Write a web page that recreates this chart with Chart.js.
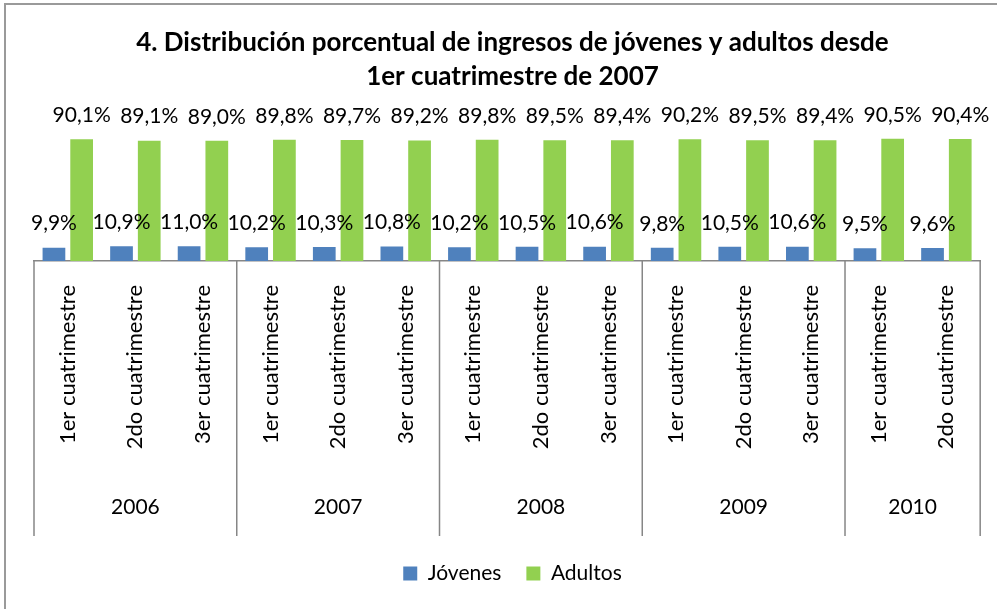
<!DOCTYPE html>
<html>
<head>
<meta charset="utf-8">
<script src="https://cdn.jsdelivr.net/npm/chart.js@4.4.0/dist/chart.umd.min.js"></script>
<style>
  body { margin: 0; background: #fff; }
  #wrap { position: relative; width: 997px; height: 609px; overflow: hidden; }
  #frame { position: absolute; left: 4px; top: 3px; width: 1100px; height: 700px;
           border-top: 2px solid #9a9a9a; border-left: 2px solid #9a9a9a; pointer-events: none; }
</style>
</head>
<body>
<div id="wrap">
  <canvas id="ingresosChart" width="997" height="609"></canvas>
  <div id="frame"></div>
</div>
<script>
// datos del grafico
var cuatrimestres = [
  '1er cuatrimestre', '2do cuatrimestre', '3er cuatrimestre',
  '1er cuatrimestre', '2do cuatrimestre', '3er cuatrimestre',
  '1er cuatrimestre', '2do cuatrimestre', '3er cuatrimestre',
  '1er cuatrimestre', '2do cuatrimestre', '3er cuatrimestre',
  '1er cuatrimestre', '2do cuatrimestre'
];
var anios = ['2006', '2007', '2008', '2009', '2010'];
var cuatrimestresPorAnio = [3, 3, 3, 3, 2];
var jovenes = [9.9, 10.9, 11.0, 10.2, 10.3, 10.8, 10.2, 10.5, 10.6, 9.8, 10.5, 10.6, 9.5, 9.6];
var adultos = [90.1, 89.1, 89.0, 89.8, 89.7, 89.2, 89.8, 89.5, 89.4, 90.2, 89.5, 89.4, 90.5, 90.4];

var FUENTE = 'Lato';
var GRIS = '#868686';

// etiquetas de valor encima de cada barra
var etiquetasPlugin = {
  id: 'etiquetas',
  afterDatasetsDraw: function (chart) {
    var ctx = chart.ctx;
    ctx.save();
    ctx.font = '21px ' + FUENTE;
    ctx.fillStyle = '#000';
    ctx.textAlign = 'center';
    ctx.textBaseline = 'middle';
    chart.data.datasets.forEach(function (ds, i) {
      chart.getDatasetMeta(i).data.forEach(function (bar, j) {
        var txt = ds.data[j].toFixed(1).replace('.', ',') + '%';
        ctx.fillText(txt, bar.x, bar.y - 24);
      });
    });
    ctx.restore();
  }
};

// segundo nivel del eje: años y separadores
var aniosPlugin = {
  id: 'anios',
  afterDraw: function (chart) {
    var ctx = chart.ctx;
    var x = chart.scales.x;
    var paso = x.getPixelForValue(1) - x.getPixelForValue(0);
    var top = chart.chartArea.bottom;
    var bottom = 536;
    ctx.save();
    ctx.strokeStyle = GRIS;
    ctx.lineWidth = 1.5;
    ctx.font = '21px ' + FUENTE;
    ctx.fillStyle = '#000';
    ctx.textAlign = 'center';
    ctx.textBaseline = 'middle';
    var inicio = 0;
    cuatrimestresPorAnio.forEach(function (n, k) {
      var izq = x.getPixelForValue(inicio) - paso / 2;
      var der = x.getPixelForValue(inicio + n - 1) + paso / 2;
      ctx.beginPath();
      ctx.moveTo(izq, top);
      ctx.lineTo(izq, bottom);
      ctx.stroke();
      if (k === cuatrimestresPorAnio.length - 1) {
        ctx.beginPath();
        ctx.moveTo(der, top);
        ctx.lineTo(der, bottom);
        ctx.stroke();
      }
      ctx.fillText(anios[k], (izq + der) / 2, 507);
      inicio += n;
    });
    ctx.restore();
  }
};

var ctx = document.getElementById('ingresosChart').getContext('2d');
var myChart = new Chart(ctx, {
  type: 'bar',
  data: {
    labels: cuatrimestres,
    datasets: [{
      label: 'Jóvenes',
      data: jovenes,
      backgroundColor: '#4F81BD',
      categoryPercentage: 0.82,
      barPercentage: 0.82
    }, {
      label: 'Adultos',
      data: adultos,
      backgroundColor: '#92D050',
      categoryPercentage: 0.82,
      barPercentage: 0.82
    }]
  },
  options: {
    responsive: false,
    animation: false,
    devicePixelRatio: 1,
    layout: { padding: { left: 34, right: 6, top: 0, bottom: 15 } },
    scales: {
      x: {
        grid: { display: false, drawTicks: false },
        border: { display: true, color: GRIS, width: 1.5 },
        ticks: {
          autoSkip: false,
          minRotation: 90,
          maxRotation: 90,
          padding: 24,
          color: '#000',
          font: { family: FUENTE, size: 22 }
        },
        afterFit: function (scale) { scale.height = 277; }
      },
      y: { display: false, min: 0, max: 100 }
    },
    plugins: {
      title: {
        display: true,
        text: ['4. Distribución porcentual de ingresos de jóvenes y adultos desde',
               '1er cuatrimestre de 2007'],
        color: '#000',
        font: { family: FUENTE, size: 26, weight: 'bold', lineHeight: 34 / 26 },
        padding: { top: 26, bottom: 32 }
      },
      legend: {
        position: 'bottom',
        labels: {
          boxWidth: 14,
          boxHeight: 14,
          padding: 25,
          color: '#000',
          font: { family: FUENTE, size: 21 }
        }
      },
      tooltip: { enabled: false }
    }
  },
  plugins: [etiquetasPlugin, aniosPlugin]
});
</script>
</body>
</html>
